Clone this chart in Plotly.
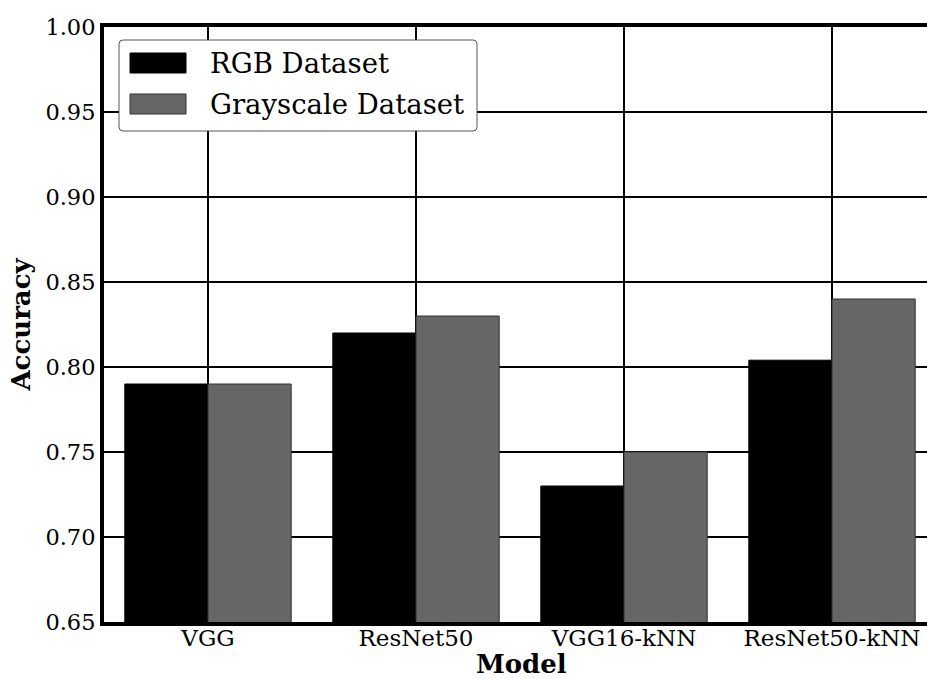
import plotly.graph_objects as go

# Model accuracy on the two datasets
models = ["VGG", "ResNet50", "VGG16-kNN", "ResNet50-kNN"]
rgb_acc = [0.79, 0.82, 0.73, 0.804]
gray_acc = [0.79, 0.83, 0.75, 0.84]
series_names = ["RGB Dataset", "Grayscale Dataset"]
y_ticks = [0.65, 0.70, 0.75, 0.80, 0.85, 0.90, 0.95, 1.00]

W, H = 927, 679
L, T, R, B = 104, 27, 0, 57
PW, PH = W - L - R, H - T - B
FONT = "DejaVu Serif"
RGB_COLOR = "#000000"
GRAY_COLOR = "#666666"


def px(x, y):
    """Pixel position on the page -> paper coordinates of the plot area."""
    return (x - L) / PW, (H - B - y) / PH


fig = go.Figure()
fig.add_trace(go.Bar(
    x=models, y=rgb_acc, name=series_names[0],
    marker=dict(color=RGB_COLOR, line=dict(color="#000000", width=1)),
))
fig.add_trace(go.Bar(
    x=models, y=gray_acc, name=series_names[1],
    marker=dict(color=GRAY_COLOR, line=dict(color="#333333", width=1)),
))

# Legend drawn by hand so the swatches are wide rectangles
shapes = []
x0, y0 = px(119, 131)
x1, y1 = px(477, 40)
rx, ry = 4 / PW, 4 / PH
path = (f"M {x0+rx},{y0} L {x1-rx},{y0} Q {x1},{y0} {x1},{y0+ry} "
        f"L {x1},{y1-ry} Q {x1},{y1} {x1-rx},{y1} L {x0+rx},{y1} "
        f"Q {x0},{y1} {x0},{y1-ry} L {x0},{y0+ry} Q {x0},{y0} {x0+rx},{y0} Z")
shapes.append(dict(type="path", path=path, xref="paper", yref="paper",
                   fillcolor="white", line=dict(color="#555555", width=1),
                   layer="above"))
annotations = []
for i, (name, col, edge) in enumerate(zip(series_names, [RGB_COLOR, GRAY_COLOR],
                                         ["#000000", "#333333"])):
    top = 53 + i * 41
    sx0, sy0 = px(130, top + 20)
    sx1, sy1 = px(186, top)
    shapes.append(dict(type="rect", xref="paper", yref="paper",
                       x0=sx0, y0=sy0, x1=sx1, y1=sy1, fillcolor=col,
                       line=dict(color=edge, width=1), layer="above"))
    tx, ty = px(208, top + 10)
    annotations.append(dict(text=name, xref="paper", yref="paper", x=tx, y=ty,
                            xanchor="left", yanchor="middle", showarrow=False,
                            font=dict(family=FONT, size=27.5, color="black")))

# x-axis title, placed below the tick labels
mx, my = px(521, 664)
annotations.append(dict(text="<b>Model</b>", xref="paper", yref="paper", x=mx, y=my,
                        xanchor="center", yanchor="middle", showarrow=False,
                        font=dict(family=FONT, size=26, color="black")))

fig.update_layout(
    width=W, height=H,
    margin=dict(l=L, r=R, t=T, b=B, pad=0, autoexpand=False),
    paper_bgcolor="white", plot_bgcolor="white",
    barmode="group", bargap=0.2, bargroupgap=0,
    showlegend=False,
    shapes=shapes, annotations=annotations,
    font=dict(family=FONT, color="black"),
)
fig.update_xaxes(
    range=[-0.5, -0.5 + PW / 208.0],
    automargin=False,
    showline=True, linewidth=4, linecolor="black", mirror=True,
    showgrid=True, gridcolor="black", gridwidth=1.5,
    ticks="", tickfont=dict(family=FONT, size=23, color="black"),
    ticklabelstandoff=-8,
    zeroline=False,
)
fig.update_yaxes(
    range=[0.65, 1.00], tickvals=y_ticks,
    ticktext=[f"{v:.2f}" for v in y_ticks],
    automargin=False,
    showline=True, linewidth=4, linecolor="black", mirror=False,
    showgrid=True, gridcolor="black", gridwidth=1.5,
    ticks="", tickfont=dict(family=FONT, size=22.5, color="black"),
    title=dict(text="<b>Accuracy</b>", font=dict(family=FONT, size=26, color="black"),
               standoff=8),
    zeroline=False,
)

fig.write_html("out.html")
